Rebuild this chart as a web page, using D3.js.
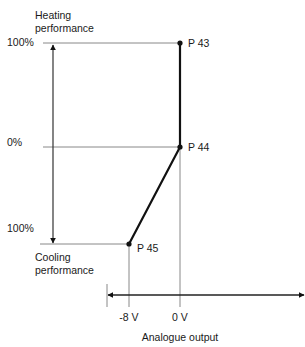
<!DOCTYPE html>
<html>
<head>
<meta charset="utf-8">
<script src="https://cdn.jsdelivr.net/npm/d3@7"></script>
<style>
  body { margin: 0; background: #fff; }
  text { font-family: "Liberation Sans", Arial, sans-serif; font-size: 10.5px; fill: #1a1a1a; }
</style>
</head>
<body>
<div id="chart"></div>
<script>
// characteristic: analogue output voltage vs. performance
const pointNames = ["P 45", "P 44", "P 43"];
const volts = [-8, 0, 0];
const performance = [-100, 0, 100];
const yTickValues = [100, 0, -100];
const yTickLabels = ["100%", "0%", "100%"];
const xTickValues = [-8, 0];
const xTickLabels = ["-8 V", "0 V"];

const width = 305, height = 347;

const svg = d3.select("#chart").append("svg")
    .attr("width", width)
    .attr("height", height);

const defs = svg.append("defs");
function marker(id, color) {
    defs.append("marker")
        .attr("id", id)
        .attr("viewBox", "0 0 10 10")
        .attr("refX", 9).attr("refY", 5)
        .attr("markerWidth", 6).attr("markerHeight", 6)
        .attr("markerUnits", "userSpaceOnUse")
        .attr("orient", "auto-start-reverse")
        .append("path")
        .attr("d", "M0,0L10,5L0,10Z")
        .attr("fill", color);
}
marker("arr", "#111");

const x = d3.scaleLinear().domain([-8, 0]).range([129, 180]);
const y = d3.scaleLinear().domain([-100, 0, 100]).range([244, 147, 43]);

const data = pointNames.map(function (n, i) {
    return {name: n, v: volts[i], p: performance[i]};
});

const gray = "#888";

// horizontal reference lines for each level
svg.selectAll("line.level")
    .data(data)
    .enter()
    .append("line")
    .attr("class", "level")
    .attr("x1", function (d) { return d.p < 0 ? 40 : 43; })
    .attr("x2", function (d) { return x(d.v); })
    .attr("y1", function (d) { return y(d.p); })
    .attr("y2", function (d) { return y(d.p); })
    .attr("stroke", gray)
    .attr("stroke-width", 1);

// vertical drop lines to the voltage axis
svg.selectAll("line.drop")
    .data(data.slice(0, 2))
    .enter()
    .append("line")
    .attr("class", "drop")
    .attr("x1", function (d) { return x(d.v); })
    .attr("x2", function (d) { return x(d.v); })
    .attr("y1", function (d) { return y(d.p); })
    .attr("y2", 307)
    .attr("stroke", gray)
    .attr("stroke-width", 1);

// double arrow heating/cooling range
svg.append("line")
    .attr("x1", 53).attr("x2", 53)
    .attr("y1", y(100) + 2).attr("y2", y(-100) - 1)
    .attr("stroke", "#333")
    .attr("stroke-width", 1.2)
    .attr("marker-start", "url(#arr)")
    .attr("marker-end", "url(#arr)");

// voltage axis
svg.append("line")
    .attr("x1", 108).attr("x2", 304)
    .attr("y1", 295).attr("y2", 295)
    .attr("stroke", "#222")
    .attr("stroke-width", 1.4)
    .attr("marker-start", "url(#arr)")
    .attr("marker-end", "url(#arr)");

svg.append("line")
    .attr("x1", 107).attr("x2", 107)
    .attr("y1", 284).attr("y2", 307)
    .attr("stroke", gray)
    .attr("stroke-width", 1);

// characteristic curve
svg.append("path")
    .datum(data)
    .attr("d", d3.line()
        .x(function (d) { return x(d.v); })
        .y(function (d) { return y(d.p); }))
    .attr("fill", "none")
    .attr("stroke", "#111")
    .attr("stroke-width", 2.2);

svg.selectAll("circle")
    .data(data)
    .enter()
    .append("circle")
    .attr("cx", function (d) { return x(d.v); })
    .attr("cy", function (d) { return y(d.p); })
    .attr("r", 2.6)
    .attr("fill", "#111");

svg.selectAll("text.pt")
    .data(data)
    .enter()
    .append("text")
    .attr("class", "pt")
    .attr("x", function (d) { return x(d.v) + 8; })
    .attr("y", function (d) { return y(d.p) + (d.p < 0 ? 8 : 4); })
    .text(function (d) { return d.name; });

// y labels
svg.selectAll("text.ytick")
    .data(yTickValues)
    .enter()
    .append("text")
    .attr("class", "ytick")
    .attr("x", 7)
    .attr("y", function (d, i) { return y(d) + (i === 0 ? 3 : i === 1 ? -1 : -12); })
    .text(function (d, i) { return yTickLabels[i]; });

// x labels
svg.selectAll("text.xtick")
    .data(xTickValues)
    .enter()
    .append("text")
    .attr("class", "xtick")
    .attr("x", function (d) { return x(d); })
    .attr("y", 321)
    .attr("text-anchor", "middle")
    .text(function (d, i) { return xTickLabels[i]; });

svg.append("text")
    .attr("x", 180).attr("y", 341)
    .attr("text-anchor", "middle")
    .text("Analogue output");

svg.append("text").attr("x", 35).attr("y", 19).text("Heating");
svg.append("text").attr("x", 35).attr("y", 32).text("performance");
svg.append("text").attr("x", 35).attr("y", 261).text("Cooling");
svg.append("text").attr("x", 35).attr("y", 274).text("performance");
</script>
</body>
</html>
